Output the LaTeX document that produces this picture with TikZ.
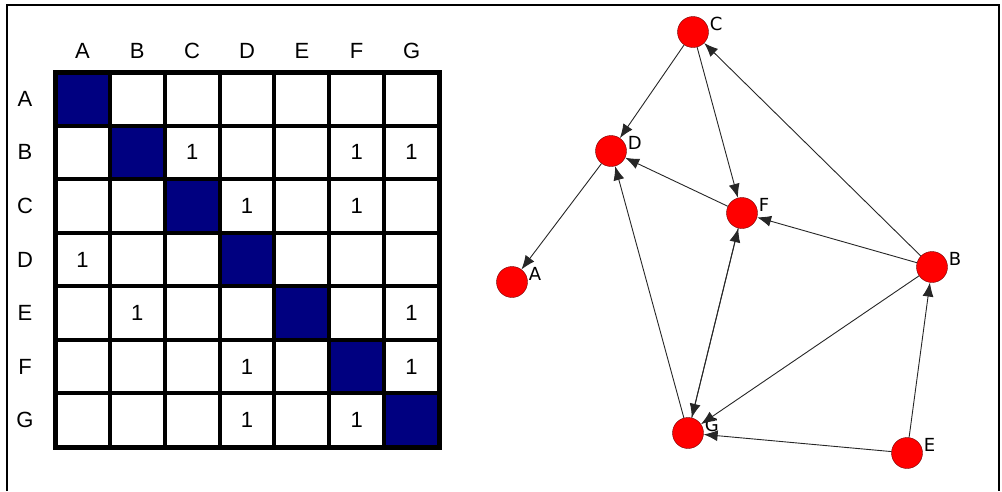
\documentclass[tikz,border=0pt]{standalone}
\usepackage{fontspec}
\setmainfont{Liberation Sans}
\newfontfamily\vlabelfont{DejaVu Sans}
\usetikzlibrary{arrows.meta}
\definecolor{cellblue}{RGB}{0,0,128}
\tikzstyle{vertex} = [circle, draw=red!45!black, fill=red, minimum size=31pt, inner sep=0pt, label distance=2pt]
\tikzstyle{line} = [draw, black!85, line width=0.9pt, -{Latex[length=14pt,width=11pt]}]
\tikzstyle{head} = [font=\fontsize{22}{22}\selectfont, inner sep=0pt]
\tikzstyle{one} = [font=\fontsize{22}{22}\selectfont, inner sep=0pt]
\tikzset{every label/.style={font=\vlabelfont\fontsize{18}{18}\selectfont, inner sep=1pt, yshift=8pt}}

\begin{document}
\begin{tikzpicture}[x=1pt,y=-1pt]
  \useasboundingbox (0,0) rectangle (1002,491);
  % frame
  \draw[line width=2.5pt] (7,491) -- (7,5) -- (999,5) -- (999,491);

  % adjacency matrix
  \def\cw{54.857}\def\ch{53.571}
  \foreach \i in {0,...,6}
    \fill[cellblue] (55+\i*\cw,72+\i*\ch) rectangle ++(\cw,\ch);
  \foreach \i in {1,...,6} {
    \draw[line width=4pt] (55+\i*\cw,72) -- (55+\i*\cw,447);
    \draw[line width=4pt] (55,72+\i*\ch) -- (439,72+\i*\ch);
  }
  \draw[line width=5pt] (55,72) rectangle (439,447);

  \foreach \n [count=\i from 0] in {A,B,C,D,E,F,G} {
    \node[head] (col\n) at (55+\i*\cw+\cw/2,51) {\n};
    \node[head] (row\n) at (25,72+\i*\ch+\ch/2) {\n};
  }
  \foreach \r/\c in {1/2,1/5,1/6,2/3,2/5,3/0,4/1,4/6,5/3,5/6,6/3,6/5}
    \node[one] (e\r\c) at (55+\c*\cw+\cw/2,72+\r*\ch+\ch/2) {1};

  % graph
  \node [vertex, label=east:C] (C) at (693,32) {};
  \node [vertex, label=east:D] (D) at (611,151) {};
  \node [vertex, label=east:F] (F) at (742,213) {};
  \node [vertex, label=east:A] (A) at (512,282) {};
  \node [vertex, label=east:B] (B) at (932,267) {};
  \node [vertex, label=east:G] (G) at (688,433) {};
  \node [vertex, label=east:E] (E) at (907,453) {};

  \path [line] (B) -- (C);
  \path [line] (B) -- (F);
  \path [line] (B) -- (G);
  \path [line] (C) -- (D);
  \path [line] (C) -- (F);
  \path [line] (D) -- (A);
  \path [line] (E) -- (B);
  \path [line] (E) -- (G);
  \path [line] (F) -- (D);
  \path [line] (F) -- (G);
  \path [line] (G) -- (D);
  \path [line] (G) -- (F);
\end{tikzpicture}
\end{document}
